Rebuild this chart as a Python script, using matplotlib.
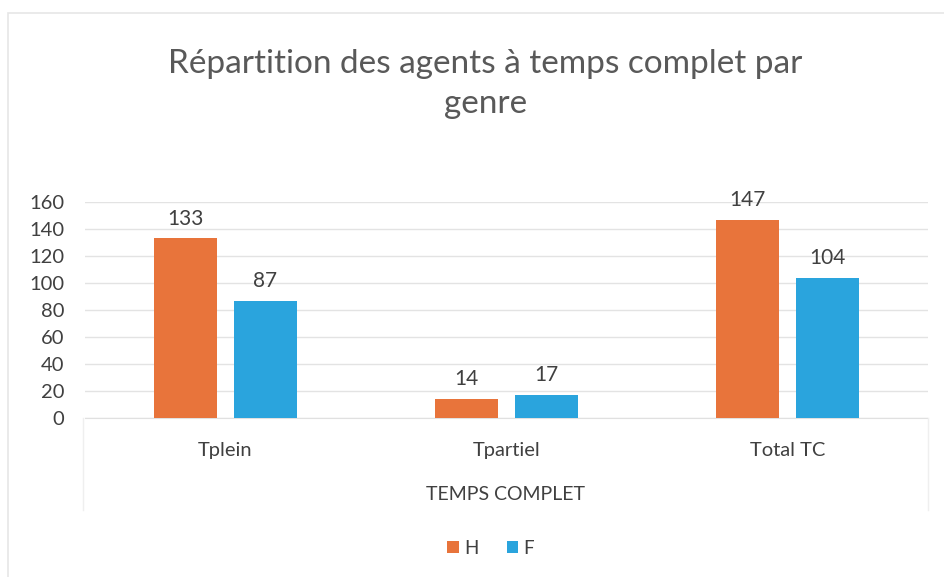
import numpy as np
import matplotlib.pyplot as plt
from matplotlib.patches import Rectangle
from matplotlib.lines import Line2D

plt.rcParams['font.family'] = ['Lato', 'DejaVu Sans']

categories = ["Tplein", "Tpartiel", "Total TC"]
series_names = ["H", "F"]
values_h = [133, 14, 147]
values_f = [87, 17, 104]
group_label = "TEMPS COMPLET"
title = "Répartition des agents à temps complet par\ngenre"
yticks = [0, 20, 40, 60, 80, 100, 120, 140, 160]

ORANGE = "#E8743B"
BLUE = "#2AA4DD"
TXT = "#404040"

fig = plt.figure(figsize=(9.44, 5.77), dpi=100)
ax = fig.add_axes([0.090, 0.2756, 0.893, 0.3744])

x = np.arange(len(categories))
w = 0.225
bh = ax.bar(x - 0.142, values_h, w, color=ORANGE, label=series_names[0], zorder=3)
bf = ax.bar(x + 0.142, values_f, w, color=BLUE, label=series_names[1], zorder=3)
for bars in (bh, bf):
    ax.bar_label(bars, padding=7, fontsize=15, color=TXT)

ax.set_xlim(-0.5, 2.5)
ax.set_ylim(0, 160)
ax.set_yticks(yticks)
ax.set_yticklabels([str(t) for t in yticks], fontsize=14.5, color=TXT)
ax.set_xticks(x)
ax.set_xticklabels(categories, fontsize=14.5, color=TXT)
ax.tick_params(axis='y', length=0, pad=15)
ax.tick_params(axis='x', length=0, pad=17)
ax.grid(axis='y', color="#E3E3E3", linewidth=1, zorder=0)
for s in ["top", "right", "left"]:
    ax.spines[s].set_visible(False)
ax.spines["bottom"].set_color("#E0E0E0")

# group label of the multi-level category axis
fig.text(0.535, 1 - 495 / 577, group_label, ha='center', va='center', fontsize=14, color=TXT)
for xp in (83 / 944, 928 / 944):
    fig.add_artist(Line2D([xp, xp], [1 - 418 / 577, 1 - 510 / 577], color="#EFEFEF", lw=1))

fig.text(0.514, 1 - 84 / 577, title, ha='center', va='center', fontsize=24,
         color="#595959", linespacing=1.45)

fig.legend(handles=[bh, bf], labels=series_names, loc='center', bbox_to_anchor=(0.52, 1 - 548 / 577),
           ncol=2, frameon=False, fontsize=13.5, handlelength=0.6, handleheight=0.6,
           handletextpad=0.3, columnspacing=1.5, labelcolor=TXT)

# chart border
fig.add_artist(Rectangle((8 / 944, -0.01), 1.0, 1 - 13 / 577 + 0.01, transform=fig.transFigure,
                         fill=False, edgecolor="#E6E6E6", lw=1.2))

fig.savefig("out.png", dpi=100)
